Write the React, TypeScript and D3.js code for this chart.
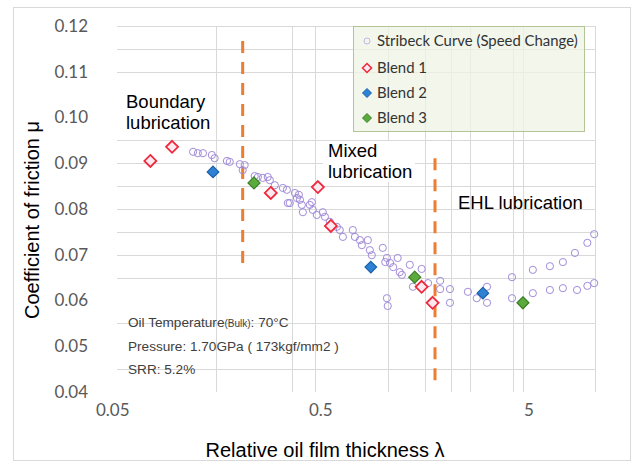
import React from 'react';
import * as d3 from 'd3';

// Stribeck curve (speed change) points: [lambda, mu]
const stribeck = [
  [0.130, 0.0925], [0.137, 0.0922], [0.145, 0.0922], [0.160, 0.0918], [0.165, 0.0911],
  [0.189, 0.0905], [0.195, 0.0903], [0.218, 0.0898], [0.230, 0.0896], [0.225, 0.0885],
  [0.257, 0.0872], [0.266, 0.0870], [0.281, 0.0868], [0.297, 0.0870], [0.304, 0.0863],
  [0.321, 0.0852], [0.351, 0.0846], [0.367, 0.0842], [0.371, 0.0813], [0.379, 0.0813],
  [0.401, 0.0835], [0.410, 0.0824], [0.419, 0.0831], [0.424, 0.0820], [0.433, 0.0809],
  [0.438, 0.0793], [0.473, 0.0809], [0.484, 0.0815], [0.489, 0.0798], [0.511, 0.0787],
  [0.546, 0.0793], [0.559, 0.0783], [0.590, 0.0772], [0.638, 0.0761], [0.659, 0.0754],
  [0.682, 0.0739], [0.761, 0.0754], [0.779, 0.0739], [0.823, 0.0732], [0.841, 0.0721],
  [0.899, 0.0732], [0.919, 0.0710], [0.939, 0.0699], [1.06, 0.0715], [1.09, 0.0684],
  [1.11, 0.0693], [1.15, 0.0682], [1.19, 0.0673], [1.25, 0.0693], [1.28, 0.0662],
  [1.31, 0.0656], [1.43, 0.0678], [1.11, 0.0605], [1.12, 0.0588], [1.63, 0.0669],
  [1.48, 0.0630], [1.75, 0.0638], [2.0, 0.0643], [2.0, 0.0625], [2.23, 0.0625],
  [2.23, 0.0595], [2.72, 0.0619], [3.0, 0.0605], [3.36, 0.0630], [3.36, 0.0595],
  [4.43, 0.0651], [4.43, 0.0605], [5.58, 0.0667], [5.58, 0.0616], [6.74, 0.0675],
  [6.74, 0.0623], [7.78, 0.0684], [7.78, 0.0627], [8.89, 0.0704], [9.1, 0.0623],
  [10.2, 0.0726], [10.2, 0.0632], [11.0, 0.0745], [11.0, 0.0638],
];

const blend1 = [
  [0.081, 0.0905], [0.103, 0.0936], [0.307, 0.0835], [0.517, 0.0848],
  [0.597, 0.0763], [1.63, 0.0630], [1.84, 0.0595],
];
const blend2 = [[0.162, 0.0881], [0.929, 0.0673], [3.21, 0.0616]];
const blend3 = [[0.255, 0.0857], [1.51, 0.0651], [5.0, 0.0595]];

const yTicks = [0.04, 0.05, 0.06, 0.07, 0.08, 0.09, 0.10, 0.11, 0.12];
const xTicks = [0.05, 0.5, 5];
const yGrid = [0.12, 0.115, 0.11, 0.095, 0.09, 0.085, 0.08, 0.075, 0.07, 0.065, 0.055, 0.045];
const xGrid = [0.167, 0.39, 0.5, 1.12, 1.69, 2.25, 2.78, 4.47, 5, 11.1];

// regime boundaries: [lambda, muTop, muBottom]
const boundaries = [[0.225, 0.1167, 0.0678], [1.89, 0.0911, 0.0413]];

const conditions = ['Oil Temperature', 'Pressure: 1.70GPa ( 173kgf/mm2 )', 'SRR: 5.2%'];

const W = 638, H = 464;
const x = d3.scaleLog().domain([0.056, 11.1]).range([117, 595]);
const y = d3.scaleLinear().domain([0.04, 0.12]).range([392, 26]);

const diamond = (r) => `M0,${-r}L${r},0L0,${r}L${-r},0Z`;

export default function App() {
  const tickFont = 'Lato, "Open Sans", sans-serif';
  const arial = '"Liberation Sans", Arial, sans-serif';
  return (
    <svg width={W} height={H} style={{ position: 'absolute', left: 0, top: 0, background: '#fff' }}>
      <rect x={13.5} y={7.5} width={617} height={453} fill="#fff" stroke="#d9d9d9" />

      {/* grid */}
      <g stroke="#d9d9d9" strokeWidth={1}>
        {yGrid.map(v => (
          <line key={'h' + v} x1={117} x2={595} y1={Math.round(y(v)) + 0.5} y2={Math.round(y(v)) + 0.5} />
        ))}
        {xGrid.map(v => (
          <line key={'v' + v} x1={Math.round(x(v)) + 0.5} x2={Math.round(x(v)) + 0.5} y1={26} y2={392} />
        ))}
      </g>

      {/* ticks */}
      <g fill="#595959" fontFamily={tickFont} fontSize={17}>
        {yTicks.map(v => (
          <text key={v} x={88} y={y(v)} dy="0.35em" textAnchor="end">{v.toFixed(2)}</text>
        ))}
        {xTicks.map(v => (
          <text key={v} x={x(v) + 6} y={416} textAnchor="middle">{String(v)}</text>
        ))}
      </g>

      {/* axis titles */}
      <text x={325} y={457} textAnchor="middle" fontFamily={arial} fontSize={20} fill="#000">
        Relative oil film thickness λ
      </text>
      <text transform="translate(39,220) rotate(-90)" textAnchor="middle" fontFamily={arial} fontSize={20} fill="#000">
        Coefficient of friction μ
      </text>

      {/* regime boundaries */}
      <g stroke="#ed7d31" strokeWidth={3} strokeDasharray="12 9">
        {boundaries.map(([l, t, b]) => (
          <line key={l} x1={x(l)} x2={x(l)} y1={y(t)} y2={y(b)} />
        ))}
      </g>

      {/* regime labels */}
      <rect x={323} y={141} width={92} height={41} fill="#fff" />
      <g fontFamily={arial} fontSize={18.5} fill="#000">
        <text x={126} y={108}>Boundary</text>
        <text x={126} y={129}>lubrication</text>
        <text x={328} y={157}>Mixed</text>
        <text x={328} y={178}>lubrication</text>
        <text x={458} y={209}>EHL lubrication</text>
      </g>

      {/* stribeck points */}
      <g fill="none" stroke="#a18bd9" strokeWidth={1}>
        {stribeck.map(([l, m], i) => (
          <circle key={i} cx={x(l)} cy={y(m)} r={3.6} />
        ))}
      </g>

      {/* blends */}
      {blend1.map(([l, m], i) => (
        <path key={'b1' + i} d={diamond(6)} transform={`translate(${x(l)},${y(m)})`}
          fill="#fdeaf0" stroke="#f0283c" strokeWidth={1.8} />
      ))}
      {blend2.map(([l, m], i) => (
        <path key={'b2' + i} d={diamond(5.8)} transform={`translate(${x(l)},${y(m)})`}
          fill="#2e82d6" stroke="#1d5fa8" strokeWidth={1.2} />
      ))}
      {blend3.map(([l, m], i) => (
        <path key={'b3' + i} d={diamond(6)} transform={`translate(${x(l)},${y(m)})`}
          fill="#5bab3c" stroke="#3b7f27" strokeWidth={1.2} />
      ))}

      {/* legend */}
      <g>
        <rect x={353.5} y={26.5} width={231} height={105} fill="#eef3e4" fillOpacity={0.75} stroke="#b3c596" />
        <g fontFamily={tickFont} fontSize={14.9} fill="#333">
          <circle cx={367} cy={41} r={3} fill="none" stroke="#c4b5e8" />
          <text x={377} y={46}>Stribeck Curve (Speed Change)</text>
          <path d={diamond(4.5)} transform="translate(367,68)" fill="#fdeaf0" stroke="#f0283c" strokeWidth={1.5} />
          <text x={377} y={73}>Blend 1</text>
          <path d={diamond(4.5)} transform="translate(367,93)" fill="#2e82d6" stroke="#1d5fa8" />
          <text x={377} y={98}>Blend 2</text>
          <path d={diamond(4.5)} transform="translate(367,118)" fill="#5bab3c" stroke="#3b7f27" />
          <text x={377} y={123}>Blend 3</text>
        </g>
      </g>

      {/* test conditions */}
      <g fontFamily={arial} fontSize={13.6} fill="#404040">
        <text x={128} y={327}>
          {conditions[0]}
          <tspan fontSize={10}>(Bulk)</tspan>: 70°C
        </text>
        <text x={128} y={351}>{conditions[1]}</text>
        <text x={128} y={374}>{conditions[2]}</text>
      </g>
    </svg>
  );
}
